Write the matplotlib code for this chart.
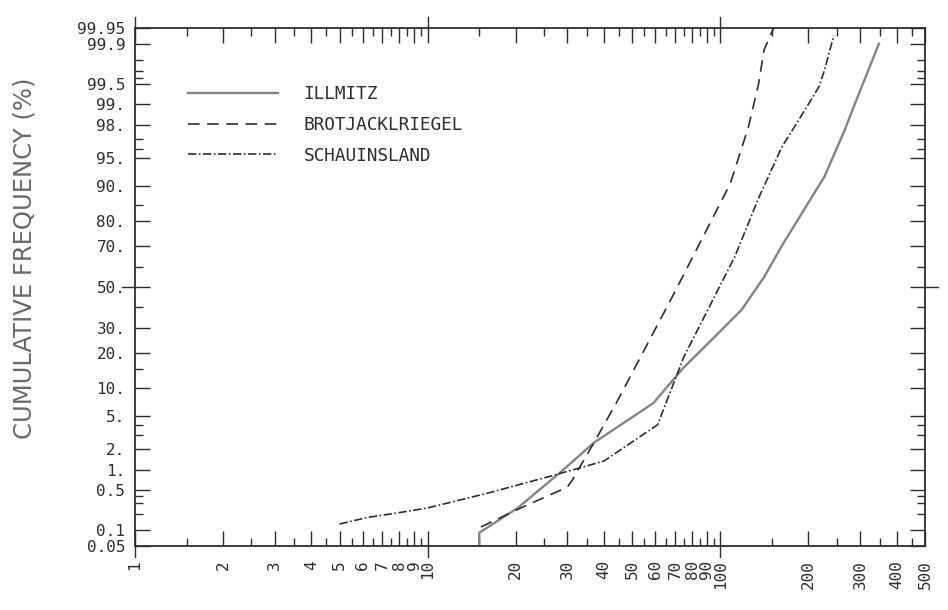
import numpy as np
import matplotlib
matplotlib.use('Agg')
import matplotlib.pyplot as plt
from matplotlib.ticker import FixedLocator, FixedFormatter, NullFormatter
from statistics import NormalDist

# --- data (x = concentration, p = cumulative %) ---
illmitz_x = [15, 15, 20.3, 28.5, 37, 59, 74.7, 95, 118, 141, 164, 227, 266, 288, 348]
illmitz_p = [0.05, 0.09, 0.25, 0.94, 2.4, 7.0, 15.2, 26, 38.5, 55, 71, 92, 97.7, 99.0, 99.9]

brot_x = [15.2, 20.8, 30, 31.2, 37, 44.6, 69.6, 108, 124.7, 135, 141, 152]
brot_p = [0.115, 0.25, 0.55, 0.71, 2.4, 7.5, 47, 90.5, 97.9, 99.5, 99.87, 99.95]

schau_x = [5, 6.2, 8.1, 10, 16, 27, 40, 61, 75, 112, 135, 162, 185, 202, 217, 227, 244]
schau_p = [0.13, 0.17, 0.21, 0.25, 0.44, 0.84, 1.35, 4.0, 18.7, 65, 87, 96.2, 98.3, 99.06, 99.45, 99.71, 99.93]

# axis ticks
x_major = [1, 2, 3, 4, 5, 6, 7, 8, 9, 10, 20, 30, 40, 50, 60, 70, 80, 90, 100, 200, 300, 400, 500]
x_labels = [str(v) for v in x_major]
x_minor = [1.5, 2.5, 3.5, 4.5, 5.5, 6.5, 7.5, 8.5, 9.5,
           15, 25, 35, 45, 55, 65, 75, 85, 95, 150, 250, 350, 450]
x_cross = [1, 10, 100]

y_major = [0.05, 0.1, 0.5, 1, 2, 5, 10, 20, 30, 50, 70, 80, 90, 95, 98, 99, 99.5, 99.9, 99.95]
y_labels = ['0.05', '0.1', '0.5', '1.', '2.', '5.', '10.', '20.', '30.', '50.',
            '70.', '80.', '90.', '95.', '98.', '99.', '99.5', '99.9', '99.95']
y_minor = [0.2, 0.3, 0.4, 3, 4, 15, 40, 60, 85, 96, 97, 99.6, 99.7, 99.8]
y_cross = [50]

# normal probability scale
_nd = NormalDist()
_ppf = np.vectorize(_nd.inv_cdf, otypes=[float])
_cdf = np.vectorize(_nd.cdf, otypes=[float])

def prob_fwd(p):
    p = np.clip(np.asarray(p, dtype=float) / 100.0, 1e-9, 1 - 1e-9)
    return _ppf(p)

def prob_inv(z):
    return _cdf(np.asarray(z, dtype=float)) * 100.0

ink = '#2e2e2e'
plt.rcParams['font.family'] = 'DejaVu Sans Mono'

fig = plt.figure(figsize=(9.48, 6.10), dpi=100)
ax = fig.add_axes([0.1424, 0.1049, 0.8333, 0.8492])

ax.plot(illmitz_x, illmitz_p, color='#858585', lw=1.7, label='ILLMITZ')
ax.plot(brot_x, brot_p, color=ink, lw=1.2, linestyle=(0, (7, 4.5)), label='BROTJACKLRIEGEL')
ax.plot(schau_x, schau_p, color=ink, lw=1.2, linestyle=(0, (5, 1.5, 1, 1.5)), label='SCHAUINSLAND')

ax.set_xscale('log')
ax.set_yscale('function', functions=(prob_fwd, prob_inv))
ax.set_xlim(1, 500)
ax.set_ylim(0.05, 99.95)

ax.xaxis.set_major_locator(FixedLocator(x_major))
ax.xaxis.set_major_formatter(FixedFormatter(x_labels))
ax.xaxis.set_minor_locator(FixedLocator(x_minor))
ax.xaxis.set_minor_formatter(NullFormatter())
ax.yaxis.set_major_locator(FixedLocator(y_major))
ax.yaxis.set_major_formatter(FixedFormatter(y_labels))
ax.yaxis.set_minor_locator(FixedLocator(y_minor))
ax.yaxis.set_minor_formatter(NullFormatter())

ax.tick_params(which='both', direction='in', top=True, right=True, color=ink, width=1.0)
ax.tick_params(which='major', length=11)
ax.tick_params(which='minor', length=6)
ax.tick_params(axis='x', which='major', labelrotation=90, pad=10, labelsize=11.5, labelcolor=ink)
ax.tick_params(axis='y', which='major', pad=7, labelsize=11.5, labelcolor=ink)

for s in ax.spines.values():
    s.set_color(ink)
    s.set_linewidth(1.3)

# ticks that cross the frame
xt = ax.get_xaxis_transform()
for v in x_cross:
    ax.plot([v, v], [-0.022, 0.0], transform=xt, color=ink, lw=1.0, clip_on=False)
    ax.plot([v, v], [1.0, 1.022], transform=xt, color=ink, lw=1.0, clip_on=False)
yt = ax.get_yaxis_transform()
for v in y_cross:
    ax.plot([-0.016, 0.0], [v, v], transform=yt, color=ink, lw=1.0, clip_on=False)
    ax.plot([1.0, 1.016], [v, v], transform=yt, color=ink, lw=1.0, clip_on=False)

ax.set_ylabel('CUMULATIVE FREQUENCY (%)', family='DejaVu Sans', fontsize=17.5, color='#6a6a6a')
ax.yaxis.set_label_coords(-0.125, 0.555)

leg = ax.legend(loc='upper left', bbox_to_anchor=(0.067, 0.89), frameon=False,
                fontsize=12.8, handlelength=5.05, handletextpad=1.45,
                labelspacing=0.72, borderpad=0, borderaxespad=0)
for t in leg.get_texts():
    t.set_color(ink)

fig.savefig('out.png', dpi=100)
